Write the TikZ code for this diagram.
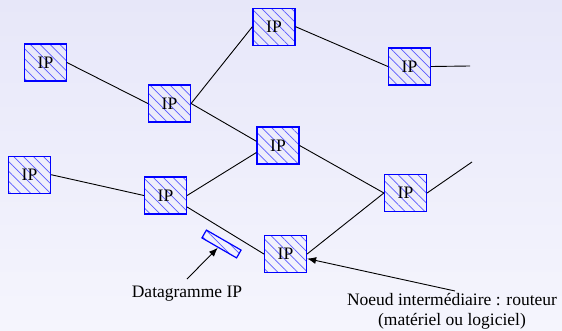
\documentclass[tikz,border=0pt]{standalone}
\usepackage{fontspec}
\setmainfont{LiberationSerif}[Extension=.ttf, UprightFont=*-Regular, BoldFont=*-Bold]
\usetikzlibrary{arrows.meta,patterns.meta}
\definecolor{bgtop}{RGB}{231,231,249}
\definecolor{bgbot}{RGB}{245,245,253}
\definecolor{hatch}{RGB}{90,90,255}

\begin{document}
\begin{tikzpicture}[x=1pt,y=-1pt,
    font=\rmfamily\fontsize{17.5}{20}\selectfont,
    ipbox/.style={draw=blue, line width=1.2pt, minimum width=42pt, minimum height=37pt,
      inner sep=0pt, pattern={Lines[angle=-45,distance=7pt,line width=0.7pt]}, pattern color=hatch},
    dgram/.style={draw=blue, line width=1.2pt, minimum width=40pt, minimum height=9pt,
      inner sep=0pt, rotate=-30, pattern={Lines[angle=-45,distance=7pt,line width=0.7pt]}, pattern color=hatch},
    caption/.style={inner sep=2pt, align=center},
    link/.style={line width=0.9pt},
    pointer/.style={line width=0.9pt, -{Latex[length=9pt,width=7pt]}}]
  % Background
  \shade[top color=bgtop, bottom color=bgbot] (0,0) rectangle (562,331);
  \useasboundingbox (0,0) rectangle (562,331);

  % Routers
  \foreach \n/\x/\y in {a/45.5/62.5, b/169.5/103.5, c/274/26.7, d/409.5/66.5, e/278/145.5,
                        f/29.5/174.7, g/165.5/195.5, h/405.5/193, i/285.5/254}
  {
    \node[ipbox] (\n) at (\x,\y) {IP};
  }
  \coordinate (dout) at (470,66);
  \coordinate (hout) at (472,162);

  % Links
  \draw[link] (a.east) -- (b.west);
  \draw[link] (b.east) -- (c.west);
  \draw[link] (b.east) -- (e.169);
  \draw[link] (c.east) -- (d.west);
  \draw[link] (d.east) -- (dout);
  \draw[link] (f.east) -- (g.west);
  \draw[link] (g.east) -- (e.198);
  \draw[link] (g.-28) -- (i.west);
  \draw[link] (e.east) -- (h.west);
  \draw[link] (h.west) -- (i.east);
  \draw[link] (h.east) -- (hout);

  % Datagram on the way
  \node[dgram] (pkt) at (221.5,244) {};

  % Captions
  \node[caption, anchor=base] (pktlabel) at (187,297.7) {Datagramme IP};
  \node[caption, anchor=north] (rtlabel) at (452,291) {Noeud intermédiaire : routeur\\(matériel ou logiciel)};
  \draw[pointer] ([yshift=5pt]pktlabel.north) -- (pkt);
  \draw[pointer] ([xshift=3pt]rtlabel.north) -- (i.-12);
\end{tikzpicture}
\end{document}
